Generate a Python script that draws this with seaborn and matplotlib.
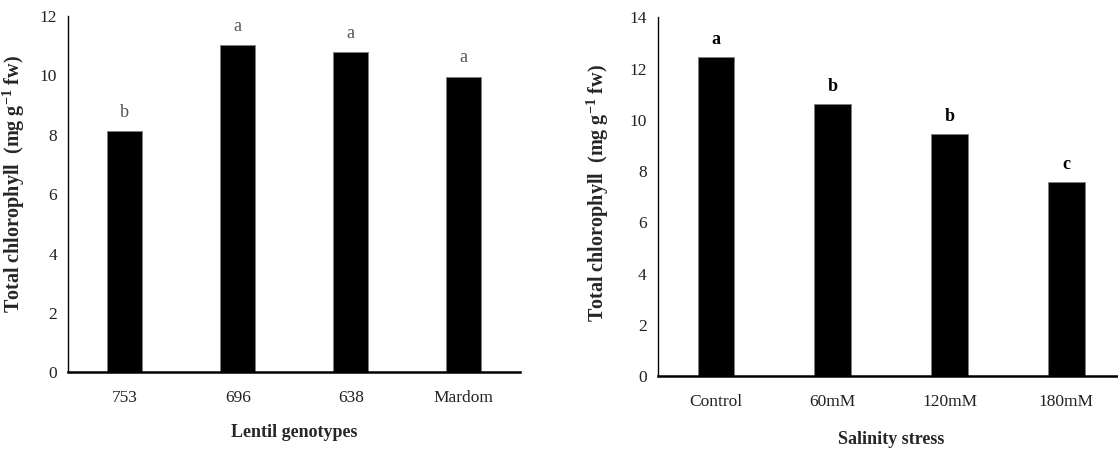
import matplotlib
matplotlib.use("Agg")
import matplotlib.pyplot as plt
import seaborn as sns
import pandas as pd

# ---- data ----
genotypes = ["753", "696", "638", "Mardom"]
geno_chl = [8.12, 11.01, 10.78, 9.95]
geno_letters = ["b", "a", "a", "a"]

salinity = ["Control", "60mM", "120mM", "180mM"]
sal_chl = [12.44, 10.60, 9.43, 7.56]
sal_letters = ["a", "b", "b", "c"]

sns.set_style("white")
plt.rcParams["font.family"] = ["Liberation Serif", "DejaVu Serif"]
plt.rcParams["mathtext.fontset"] = "custom"
plt.rcParams["mathtext.rm"] = "Liberation Serif"
plt.rcParams["mathtext.bf"] = "Liberation Serif:bold"

fig = plt.figure(figsize=(11.18, 4.5), dpi=100)
ax1 = fig.add_axes([0.0611, 0.1727, 0.4043, 0.7917])
ax2 = fig.add_axes([0.5883, 0.1644, 0.4177, 0.7972])

df1 = pd.DataFrame({"g": genotypes, "v": geno_chl})
df2 = pd.DataFrame({"g": salinity, "v": sal_chl})

sns.barplot(data=df1, x="g", y="v", color="black", width=0.31,
            edgecolor="#7f7f7f", linewidth=0.6, ax=ax1, saturation=1)
sns.barplot(data=df2, x="g", y="v", color="black", width=0.315,
            edgecolor="#7f7f7f", linewidth=0.6, ax=ax2, saturation=1)

ylab = r"Total chlorophyll  (mg g$^{\mathbf{-1}}$ fw)"

def style(ax, ymax, xlabel, letters, vals, off, lcolor, lweight, xpad, ylc):
    ax.set_xlim(-0.5, 3.5)
    ax.set_ylim(0, ymax)
    ax.set_yticks(range(0, ymax + 1, 2))
    for s in ["top", "right"]:
        ax.spines[s].set_visible(False)
    ax.spines["left"].set_linewidth(1.0)
    ax.spines["bottom"].set_linewidth(1.8)
    ax.spines["left"].set_color("black")
    ax.spines["bottom"].set_color("black")
    ax.tick_params(axis="both", length=0, labelsize=12.5, colors="#222222")
    ax.tick_params(axis="x", pad=13)
    ax.tick_params(axis="y", pad=8)
    ax.set_xlabel(xlabel, fontsize=13, fontweight="bold", labelpad=xpad)
    ax.set_ylabel(ylab, fontsize=14.5, fontweight="bold")
    ax.yaxis.set_label_coords(*ylc)
    for i, (l, v) in enumerate(zip(letters, vals)):
        ax.text(i, v + off, l, ha="center", va="center", fontsize=13,
                color=lcolor, fontweight=lweight)

style(ax1, 12, "Lentil genotypes", geno_letters, geno_chl, 0.64, "#555555", "normal", 13, (-0.091, 0.527))
style(ax2, 14, "Salinity stress", sal_letters, sal_chl, 0.68, "black", "bold", 15, (-0.100, 0.509))

fig.savefig("out.png", dpi=100)
